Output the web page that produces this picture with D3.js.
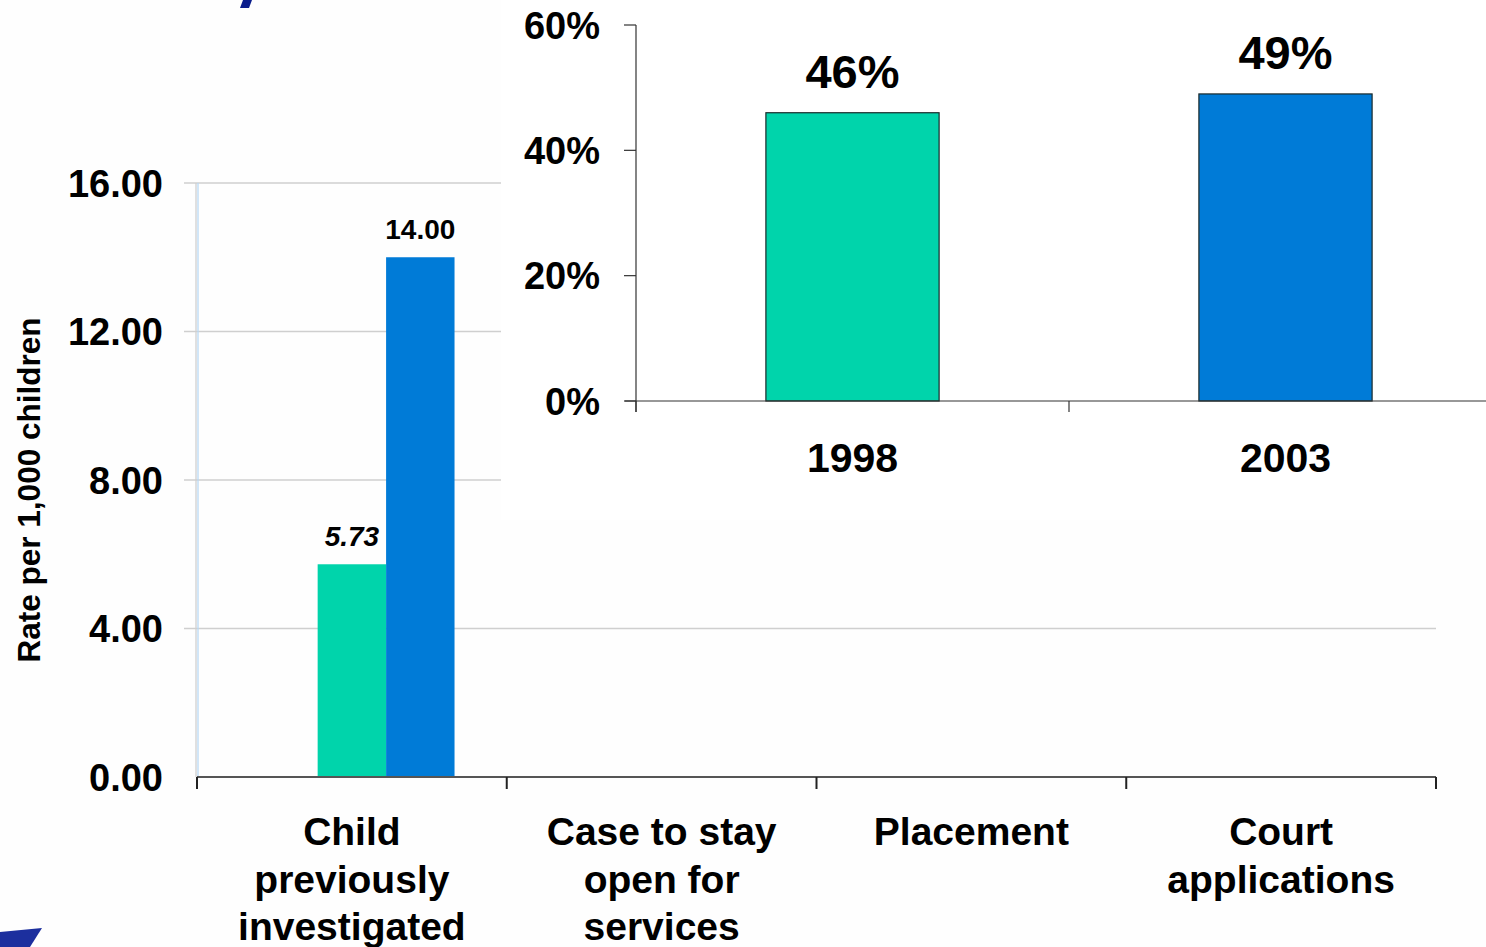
<!DOCTYPE html>
<html>
<head>
<meta charset="utf-8">
<script src="https://cdn.jsdelivr.net/npm/d3@7"></script>
<style>
  html, body { margin: 0; padding: 0; background: #ffffff; }
  svg { display: block; font-family: "Liberation Sans", Arial, sans-serif; }
</style>
</head>
<body>
<svg id="chart" width="1486" height="947"></svg>
<script>
// ---- data ----
const categories = ["Child previously investigated", "Case to stay open for services", "Placement", "Court applications"];
const categoryLines = [["Child", "previously", "investigated"], ["Case to stay", "open for", "services"], ["Placement"], ["Court", "applications"]];
const seriesKeys = ["blank", "1998", "2003"];
const seriesBlank = [null, null, null, null];
const series1998 = [5.73, null, null, null];
const series2003 = [14.00, null, null, null];
const yTicks = [0, 4, 8, 12, 16];
const yTitle = "Rate per 1,000 children";

const insetYears = ["1998", "2003"];
const insetValues = [0.46, 0.49];
const insetLabels = ["46%", "49%"];
const insetTicks = [0, 0.2, 0.4, 0.6];

const colors = { blank: "#cccccc", "1998": "#00d4ab", "2003": "#007bd7" };

const svg = d3.select("#chart");

// background
svg.append("rect").attr("width", 1486).attr("height", 947).attr("fill", "#fefefe");

// cropped title fragment (decorative stroke)
svg.append("path").attr("d", "M243,0 L252,0 L249,8 L240,8 Z").attr("fill", "#0b1d8c");

// ---- main chart ----
const y = d3.scaleLinear().domain([0, 16]).range([777, 183]);
const x = d3.scaleBand().domain(categories).range([197, 1436]).padding(0);
const xs = d3.scaleBand().domain(seriesKeys).range([0, x.bandwidth()]).paddingInner(0).paddingOuter(0.763);

// gridlines
svg.append("g").selectAll("line").data(yTicks.filter(d => d > 0)).join("line")
  .attr("x1", 184).attr("x2", 1436)
  .attr("y1", d => y(d)).attr("y2", d => y(d))
  .attr("stroke", "#cfcfcf").attr("stroke-width", 1.3);

// y axis line
svg.append("line").attr("x1", 196).attr("x2", 196).attr("y1", 183).attr("y2", 777).attr("stroke", "#d0d0d0").attr("stroke-width", 1.3);
svg.append("line").attr("x1", 198).attr("x2", 198).attr("y1", 183).attr("y2", 777).attr("stroke", "#b9d9f5").attr("stroke-width", 1.3);

// y tick labels
svg.append("g").selectAll("text").data(yTicks).join("text")
  .attr("x", 163).attr("y", d => y(d)).attr("dy", "0.36em")
  .attr("text-anchor", "end").attr("font-size", 38).attr("font-weight", "bold")
  .attr("fill", "#000").text(d => d3.format(".2f")(d));

// y title
svg.append("text").attr("transform", "translate(40,490) rotate(-90)")
  .attr("text-anchor", "middle").attr("font-size", 31.5).attr("font-weight", "bold")
  .attr("fill", "#000").text(yTitle);

// bars
const seriesData = { blank: seriesBlank, "1998": series1998, "2003": series2003 };
const barData = [];
seriesKeys.forEach(k => seriesData[k].forEach((v, i) => { if (v != null) barData.push({ key: k, cat: categories[i], v }); }));

svg.append("g").selectAll("rect").data(barData).join("rect")
  .attr("x", d => x(d.cat) + xs(d.key))
  .attr("width", xs.bandwidth())
  .attr("y", d => y(d.v))
  .attr("height", d => y(0) - y(d.v))
  .attr("fill", d => colors[d.key]);

// bar labels
svg.append("g").selectAll("text").data(barData).join("text")
  .attr("x", d => x(d.cat) + xs(d.key) + xs.bandwidth() / 2)
  .attr("y", d => y(d.v) - 18)
  .attr("text-anchor", "middle").attr("font-size", 28).attr("font-weight", "bold")
  .attr("font-style", d => d.key === "1998" ? "italic" : "normal")
  .attr("fill", "#000").text(d => d3.format(".2f")(d.v));

// x axis
svg.append("line").attr("x1", 197).attr("x2", 1436).attr("y1", 777).attr("y2", 777).attr("stroke", "#555").attr("stroke-width", 2);
const edges = categories.map(c => x(c)).concat([x.range()[1]]);
svg.append("g").selectAll("line").data(edges).join("line")
  .attr("x1", d => d).attr("x2", d => d).attr("y1", 777).attr("y2", 789)
  .attr("stroke", "#222").attr("stroke-width", 2);

// category labels
categoryLines.forEach((lines, i) => {
  const t = svg.append("text").attr("text-anchor", "middle").attr("font-size", 39).attr("font-weight", "bold").attr("fill", "#000");
  lines.forEach((ln, j) => {
    t.append("tspan").attr("x", x(categories[i]) + x.bandwidth() / 2).attr("y", 845 + j * 47.5).text(ln);
  });
});

// ---- inset chart ----
svg.append("rect").attr("x", 501).attr("y", 0).attr("width", 985).attr("height", 520).attr("fill", "#ffffff");

const yi = d3.scaleLinear().domain([0, 0.6]).range([401, 25]);
const xi = d3.scaleBand().domain(insetYears).range([636, 1502]).paddingInner(0.6).paddingOuter(0.3);

// inset y axis
svg.append("line").attr("x1", 636).attr("x2", 636).attr("y1", 25).attr("y2", 412).attr("stroke", "#333").attr("stroke-width", 1.2);
svg.append("g").selectAll("line").data(insetTicks).join("line")
  .attr("x1", 624).attr("x2", 636).attr("y1", d => yi(d)).attr("y2", d => yi(d))
  .attr("stroke", "#333").attr("stroke-width", 1.2);
svg.append("g").selectAll("text").data(insetTicks).join("text")
  .attr("x", 600).attr("y", d => yi(d)).attr("dy", "0.36em")
  .attr("text-anchor", "end").attr("font-size", 38).attr("font-weight", "bold")
  .attr("fill", "#000").text(d => d3.format(".0%")(d));

// inset bars
svg.append("g").selectAll("rect").data(insetYears).join("rect")
  .attr("x", d => xi(d)).attr("width", xi.bandwidth())
  .attr("y", (d, i) => yi(insetValues[i]))
  .attr("height", (d, i) => yi(0) - yi(insetValues[i]))
  .attr("fill", d => colors[d]).attr("stroke", "#1a2a2a").attr("stroke-width", 1.2);

// inset x axis
svg.append("line").attr("x1", 625).attr("x2", 1486).attr("y1", 401).attr("y2", 401).attr("stroke", "#333").attr("stroke-width", 1.2);
svg.append("g").selectAll("line").data([xi.range()[0], xi.range()[0] + xi.step()]).join("line")
  .attr("x1", d => d).attr("x2", d => d).attr("y1", 401).attr("y2", 412)
  .attr("stroke", "#333").attr("stroke-width", 1.2);

// inset value labels
svg.append("g").selectAll("text").data(insetYears).join("text")
  .attr("x", d => xi(d) + xi.bandwidth() / 2)
  .attr("y", (d, i) => yi(insetValues[i]) - 25)
  .attr("text-anchor", "middle").attr("font-size", 47).attr("font-weight", "bold")
  .attr("fill", "#000").text((d, i) => insetLabels[i]);

// inset category labels
svg.append("g").selectAll("text").data(insetYears).join("text")
  .attr("x", d => xi(d) + xi.bandwidth() / 2).attr("y", 472)
  .attr("text-anchor", "middle").attr("font-size", 41).attr("font-weight", "bold")
  .attr("fill", "#000").text(d => d);

// logo fragment bottom-left
svg.append("path").attr("d", "M0,932 L42,928 L30,947 L0,947 Z").attr("fill", "#1c2f9e");
</script>
</body>
</html>
